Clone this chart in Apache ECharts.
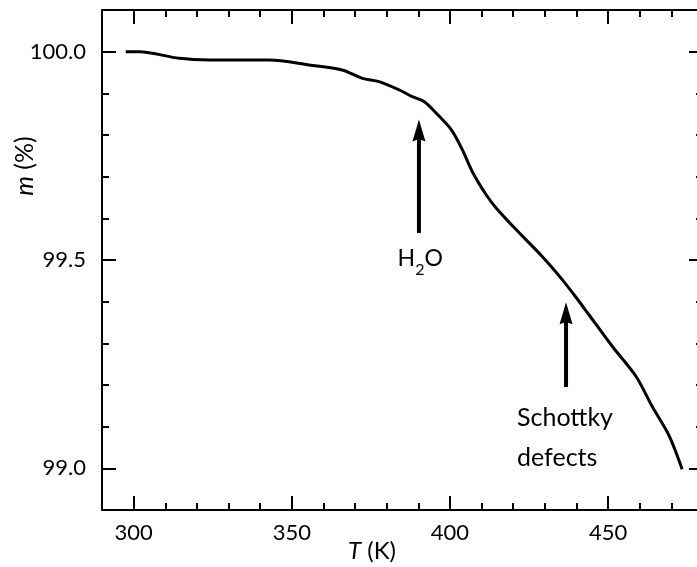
<!DOCTYPE html>
<html>
<head>
<meta charset="utf-8">
<script src="https://cdn.jsdelivr.net/npm/echarts@6/dist/echarts.min.js"></script>
<style>
html,body{margin:0;padding:0;background:#fff;}
#chart{width:697px;height:567px;}
</style>
</head>
<body>
<div id="chart"></div>
<script>
// ---- data ----
const tempK = [297.5, 301.8, 314.4, 323.9, 342.9, 355.5, 365.9, 372.3, 377.6, 384.0, 388.1, 391.9, 395.6, 400.4, 403.9, 407.2, 411.5, 414.6, 420.9, 429.1, 435.5, 439.9, 444.0, 451.3, 458.8, 463.9, 469.3, 473.4];
const massPct = [100.000, 100.000, 99.984, 99.980, 99.980, 99.968, 99.956, 99.936, 99.928, 99.908, 99.892, 99.880, 99.853, 99.813, 99.765, 99.710, 99.656, 99.625, 99.573, 99.509, 99.453, 99.410, 99.368, 99.293, 99.221, 99.149, 99.078, 98.998];
const xMajorTicks = [300, 350, 400, 450];
const xMinorTicks = [290, 310, 320, 330, 340, 360, 370, 380, 390, 410, 420, 430, 440, 460, 470, 480];
const yMajorTicks = [99.0, 99.5, 100.0];
const yMinorTicks = [98.9, 99.1, 99.2, 99.3, 99.4, 99.6, 99.7, 99.8, 99.9, 100.1];
const xRange = [290, 480];
const yRange = [98.9, 100.1];
// annotation arrows: [tail, head]
const h2oArrow = [[390.2, 99.565], [390.2, 99.811]];
const schottkyArrow = [[436.7, 99.195], [436.7, 99.372]];
// annotation label anchors
const h2oLabelAt = [390.6, 99.502];
const schottkyLabelAt = [421.2, 99.073];

const FONT = 'Lato';
const BLACK = '#000';
const arrowHead = 'path://M5,0 L10,18 L5,16 L0,18 Z';

function xAxisDef(pos, ticks, len, showLabel, showLine) {
  return {
    type: 'value', position: pos, min: xRange[0], max: xRange[1],
    axisLine: {show: showLine, onZero: false, lineStyle: {color: BLACK, width: 2}},
    axisTick: {show: true, inside: true, length: len, customValues: ticks, lineStyle: {color: BLACK, width: 2}},
    axisLabel: {show: showLabel, customValues: ticks, margin: 12, color: BLACK, fontFamily: FONT, fontSize: 22},
    splitLine: {show: false}
  };
}
function yAxisDef(pos, ticks, len, showLabel, showLine) {
  return {
    type: 'value', position: pos, min: yRange[0], max: yRange[1],
    axisLine: {show: showLine, onZero: false, lineStyle: {color: BLACK, width: 2}},
    axisTick: {show: true, inside: true, length: len, customValues: ticks, lineStyle: {color: BLACK, width: 2}},
    axisLabel: {show: showLabel, customValues: ticks, margin: 16, color: BLACK, fontFamily: FONT, fontSize: 22,
      formatter: v => v.toFixed(1)},
    splitLine: {show: false}
  };
}

function arrowSeries(pts) {
  return {
    type: 'line', xAxisIndex: 0, yAxisIndex: 0, silent: true,
    showSymbol: true,
    data: [
      {value: pts[0], symbol: 'none'},
      {value: pts[1], symbol: arrowHead, symbolSize: [13, 22]}
    ],
    lineStyle: {color: BLACK, width: 4},
    itemStyle: {color: BLACK, borderWidth: 0},
    z: 5
  };
}

const chart = echarts.init(document.getElementById('chart'), null, {renderer: 'canvas'});
chart.setOption({
  animation: false,
  backgroundColor: '#fff',
  grid: {left: 102, top: 10, width: 601, height: 500, containLabel: false, outerBoundsMode: 'none'},
  xAxis: [
    xAxisDef('bottom', xMajorTicks, 14, true, true),
    xAxisDef('bottom', xMinorTicks, 7, false, false),
    xAxisDef('top', xMajorTicks, 14, false, true),
    xAxisDef('top', xMinorTicks, 7, false, false)
  ],
  yAxis: [
    yAxisDef('left', yMajorTicks, 14, true, true),
    yAxisDef('left', yMinorTicks, 7, false, false),
    yAxisDef('right', yMajorTicks, 14, false, true),
    yAxisDef('right', yMinorTicks, 7, false, false)
  ],
  graphic: [
    {type: 'text', x: 25, y: 166, rotation: Math.PI / 2,
      style: {text: '{i|m} (%)', align: 'center', verticalAlign: 'middle', fill: BLACK,
        fontSize: 25, fontFamily: FONT,
        rich: {i: {fontStyle: 'italic', fontSize: 25, fontFamily: FONT, fill: BLACK}}}},
    {type: 'text', x: 372, y: 551,
      style: {text: '{i|T} (K)', align: 'center', verticalAlign: 'middle', fill: BLACK,
        fontSize: 24, fontFamily: FONT,
        rich: {i: {fontStyle: 'italic', fontSize: 24, fontFamily: FONT, fill: BLACK}}}}
  ],
  series: [
    {
      type: 'line', xAxisIndex: 0, yAxisIndex: 0,
      data: tempK.map((t, i) => [t, massPct[i]]),
      showSymbol: false, smooth: 0.3,
      lineStyle: {color: BLACK, width: 3}
    },
    arrowSeries(h2oArrow),
    arrowSeries(schottkyArrow),
    {
      type: 'scatter', xAxisIndex: 0, yAxisIndex: 0, symbolSize: 0, silent: true,
      itemStyle: {opacity: 1, color: BLACK},
      data: [
        {value: h2oLabelAt, label: {show: true, position: 'inside', color: BLACK, opacity: 1,
          formatter: '{n|H}{s|2}{n|O}',
          rich: {
            n: {fontFamily: FONT, fontSize: 23, color: BLACK, verticalAlign: 'top', lineHeight: 24},
            s: {fontFamily: FONT, fontSize: 16, color: BLACK, verticalAlign: 'top', lineHeight: 16, padding: [15, 0, 0, 0]}
          }}},
        {value: schottkyLabelAt, label: {show: true, position: 'right', distance: 0, align: 'left', opacity: 1,
          formatter: 'Schottky\ndefects', fontFamily: FONT, fontSize: 25, lineHeight: 40, color: BLACK}}
      ]
    }
  ]
});
</script>
</body>
</html>
